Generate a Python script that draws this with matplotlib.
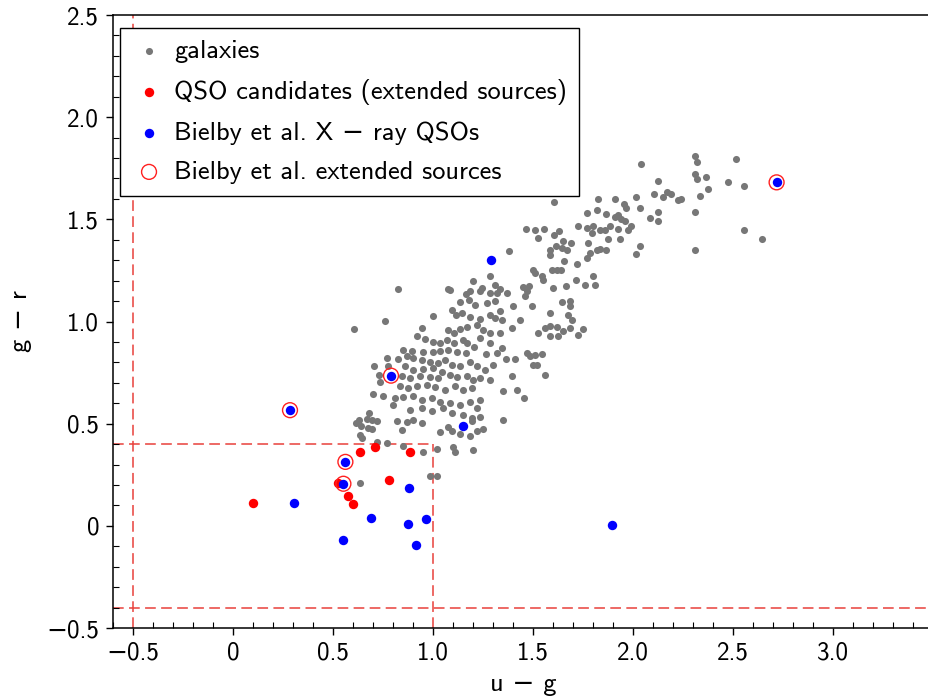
import matplotlib
matplotlib.use("Agg")
import matplotlib.pyplot as plt
from matplotlib.ticker import MultipleLocator, FuncFormatter

plt.rcParams['font.family'] = ['cmss10', 'DejaVu Sans']
plt.rcParams['axes.unicode_minus'] = True
plt.rcParams['mathtext.fontset'] = 'cm'

# ---- galaxies (u-g, g-r) ----
gal = [
    # blue edge of the cloud
    (0.707, 0.784), (0.732, 0.739), (0.735, 0.706), (0.702, 0.644), (0.680, 0.554),
    (0.628, 0.518), (0.615, 0.502), (0.668, 0.522), (0.693, 0.518), (0.722, 0.514),
    (0.640, 0.489), (0.677, 0.481), (0.693, 0.473), (0.635, 0.445), (0.647, 0.429),
    (0.718, 0.412), (0.823, 1.159), (0.607, 0.965), (1.077, 1.159), (1.202, 1.196),
    (0.635, 0.211),
    # lower part
    (0.818, 0.511), (0.868, 0.506), (0.902, 0.519), (0.943, 0.503), (0.843, 0.467),
    (1.035, 0.459), (1.077, 0.486), (1.093, 0.462), (1.135, 0.449), (1.185, 0.441),
    (1.218, 0.462), (1.252, 0.473), (1.193, 0.511), (0.768, 0.405), (0.852, 0.392),
    (0.952, 0.359), (1.022, 0.376), (1.102, 0.385), (1.110, 0.359), (1.202, 0.372),
    (0.985, 0.242), (1.022, 0.242),
    # dense core
    (1.085, 1.155), (1.165, 1.135), (1.185, 1.147), (1.235, 1.147), (1.285, 1.139),
    (1.135, 1.093), (1.182, 1.106), (1.210, 1.082), (1.268, 1.090), (1.310, 1.098),
    (1.002, 1.029), (1.093, 1.057), (1.115, 1.033), (1.143, 1.041), (0.758, 1.003),
    (0.943, 0.967), (1.185, 1.021), (1.235, 1.011), (1.285, 1.033), (1.310, 1.016),
    (1.077, 0.959), (1.105, 0.943), (1.135, 0.962), (1.172, 0.972), (1.218, 0.984),
    (1.252, 0.959), (1.285, 0.943), (1.235, 0.918), (0.918, 0.927), (0.960, 0.914),
    (1.002, 0.902), (1.035, 0.894), (1.068, 0.910), (1.105, 0.897), (1.148, 0.910),
    (1.172, 0.894), (1.285, 0.894), (1.205, 0.874), (1.265, 0.842), (1.322, 0.845),
    (0.848, 0.861), (0.893, 0.858), (0.952, 0.853), (0.998, 0.853), (1.035, 0.856),
    (1.077, 0.861), (1.122, 0.853), (1.165, 0.845), (0.768, 0.821), (0.827, 0.816),
    (0.868, 0.829), (0.902, 0.821), (0.943, 0.812), (0.985, 0.804), (1.027, 0.796),
    (1.060, 0.812), (1.093, 0.788), (1.135, 0.780), (1.185, 0.804), (1.218, 0.780),
    (1.260, 0.763), (1.302, 0.788), (0.860, 0.780), (0.902, 0.763), (0.952, 0.767),
    (1.002, 0.772), (1.043, 0.755), (0.777, 0.783), (0.843, 0.731), (0.885, 0.723),
    (0.935, 0.731), (0.985, 0.728), (1.027, 0.723), (1.085, 0.739), (1.118, 0.728),
    (1.168, 0.734), (1.202, 0.715), (1.235, 0.723), (1.285, 0.715), (0.835, 0.682),
    (0.877, 0.674), (0.918, 0.682), (0.968, 0.690), (1.010, 0.679), (1.060, 0.666),
    (1.110, 0.682), (1.152, 0.666), (1.193, 0.674), (0.752, 0.633), (0.810, 0.625),
    (0.852, 0.630), (0.902, 0.633), (0.943, 0.617), (0.993, 0.625), (1.035, 0.608),
    (1.085, 0.600), (1.135, 0.592), (1.185, 0.608), (1.235, 0.617), (1.218, 0.576),
    (0.802, 0.592), (0.885, 0.568), (0.943, 0.576), (0.993, 0.560), (1.052, 0.576),
    (1.093, 0.551), (1.152, 0.543), (1.193, 0.527), (1.235, 0.535),
    # middle of the sequence
    (1.605, 1.583), (1.768, 1.531), (1.818, 1.547), (1.727, 1.469), (1.768, 1.457),
    (1.802, 1.465), (1.793, 1.433), (1.465, 1.452), (1.510, 1.446), (1.555, 1.454),
    (1.605, 1.425), (1.632, 1.441), (1.527, 1.408), (1.652, 1.392), (1.688, 1.384),
    (1.585, 1.351), (1.615, 1.368), (1.643, 1.359), (1.672, 1.351), (1.777, 1.384),
    (1.818, 1.351), (1.785, 1.335), (1.768, 1.311), (1.382, 1.343), (1.585, 1.327),
    (1.655, 1.297), (1.718, 1.283), (1.502, 1.253), (1.510, 1.237), (1.543, 1.224),
    (1.552, 1.204), (1.593, 1.253), (1.618, 1.253), (1.638, 1.253), (1.798, 1.224),
    (1.715, 1.204), (1.760, 1.180), (1.810, 1.180), (1.285, 1.224), (1.243, 1.164),
    (1.310, 1.180), (1.335, 1.159), (1.368, 1.139), (1.322, 1.139), (1.452, 1.169),
    (1.468, 1.147), (1.482, 1.175), (1.460, 1.123), (1.598, 1.164), (1.665, 1.175),
    (1.402, 1.074), (1.493, 1.074), (1.643, 1.094), (1.685, 1.098), (1.685, 1.074),
    (1.335, 1.050), (1.343, 1.009), (1.585, 1.041), (1.677, 1.033), (1.693, 1.009),
    (1.435, 1.009), (1.393, 0.968), (1.335, 0.943), (1.527, 0.943), (1.560, 0.968),
    (1.585, 0.979), (1.618, 0.973), (1.652, 0.952), (1.685, 0.968), (1.727, 0.935),
    (1.752, 0.963), (1.585, 0.927), (1.627, 0.927),
    # lower right of the sequence
    (1.347, 0.870), (1.365, 0.816), (1.410, 0.816), (1.397, 0.735), (1.352, 0.658),
    (1.418, 0.663), (1.457, 0.625), (1.348, 0.519), (1.468, 0.845), (1.485, 0.829),
    (1.510, 0.837), (1.543, 0.841), (1.502, 0.785), (1.520, 0.785), (1.560, 0.740),
    # red end
    (1.827, 1.600), (2.310, 1.808), (2.318, 1.780), (2.513, 1.795), (2.040, 1.771),
    (2.127, 1.686), (2.310, 1.723), (2.318, 1.699), (2.363, 1.705), (2.473, 1.681),
    (2.555, 1.661), (2.377, 1.648), (2.335, 1.616), (2.107, 1.624), (2.148, 1.609),
    (2.168, 1.634), (2.190, 1.624), (2.227, 1.596), (2.238, 1.601), (1.910, 1.601),
    (2.015, 1.609), (2.035, 1.555), (1.957, 1.577), (1.965, 1.555), (2.127, 1.537),
    (2.085, 1.505), (2.127, 1.493), (2.310, 1.537), (1.865, 1.526), (1.910, 1.511),
    (1.927, 1.520), (1.940, 1.503), (1.960, 1.490), (1.977, 1.449), (1.988, 1.466),
    (1.835, 1.449), (1.860, 1.449), (1.885, 1.466), (1.927, 1.454), (2.555, 1.449),
    (2.647, 1.404), (1.877, 1.404), (1.935, 1.404), (2.310, 1.352), (2.035, 1.371),
    (2.015, 1.332), (1.835, 1.355), (1.865, 1.352),
]
gal_ug = [p[0] for p in gal]
gal_gr = [p[1] for p in gal]

# ---- QSO candidates (extended sources) ----
cand_ug = [0.102, 0.635, 0.712, 0.885, 0.778, 0.525, 0.573, 0.602]
cand_gr = [0.114, 0.359, 0.384, 0.361, 0.224, 0.211, 0.147, 0.108]

# ---- Bielby et al. X-ray QSOs ----
xray_ug = [0.562, 0.552, 0.307, 0.878, 0.688, 0.877, 0.963, 0.550, 0.917,
           1.895, 1.290, 1.152, 0.790, 0.285, 2.718]
xray_gr = [0.313, 0.206, 0.114, 0.185, 0.038, 0.010, 0.031, -0.067, -0.093,
           0.005, 1.299, 0.487, 0.735, 0.566, 1.681]

# ---- Bielby et al. extended sources ----
ext_ug = [0.562, 0.552, 0.790, 0.285, 2.718]
ext_gr = [0.313, 0.206, 0.735, 0.566, 1.681]

# selection cuts
cut_ug_min, cut_ug_max = -0.5, 1.0
cut_gr_min, cut_gr_max = -0.4, 0.4

xticks = [-0.5, 0, 0.5, 1.0, 1.5, 2.0, 2.5, 3.0]
yticks = [-0.5, 0, 0.5, 1.0, 1.5, 2.0, 2.5]

fig = plt.figure(figsize=(9.29, 7.0), dpi=100)
ax = fig.add_axes([113 / 929, 72 / 700, 820 / 929, 613 / 700])

cut_kw = dict(color='#e8403a', lw=1.1, ls=(0, (7, 3.5)), zorder=1)
ax.axvline(cut_ug_min, **cut_kw)
ax.axhline(cut_gr_min, **cut_kw)
ax.plot([-0.6, cut_ug_max], [cut_gr_max, cut_gr_max], **cut_kw)
ax.plot([cut_ug_max, cut_ug_max], [-0.5, cut_gr_max], **cut_kw)

ax.scatter(gal_ug, gal_gr, s=26, color='#777777', lw=0, zorder=2, label='galaxies')
ax.scatter(cand_ug, cand_gr, s=46, color='#ff0000', lw=0, zorder=3,
           label='QSO candidates (extended sources)')
ax.scatter(xray_ug, xray_gr, s=46, color='#0000ff', lw=0, zorder=4,
           label='Bielby et al. X \u2212 ray QSOs')
ax.scatter(ext_ug, ext_gr, s=115, facecolor='none', edgecolor='#ff2020', lw=1.0,
           zorder=5, label='Bielby et al. extended sources')

ax.set_xlim(-0.6, 3.5)
ax.set_ylim(-0.5, 2.5)
ax.set_xticks(xticks)
ax.set_yticks(yticks)
ax.xaxis.set_minor_locator(MultipleLocator(0.1))
ax.yaxis.set_minor_locator(MultipleLocator(0.1))


def fmt(v, pos):
    if abs(v) < 1e-9:
        return '0'
    return ('%.1f' % v).replace('-', '\u2212')


ax.xaxis.set_major_formatter(FuncFormatter(fmt))
ax.yaxis.set_major_formatter(FuncFormatter(fmt))
ax.tick_params(which='major', direction='out', length=5, width=1, labelsize=18, pad=5)
ax.tick_params(which='minor', direction='in', length=4, width=0.8)
for s in ax.spines.values():
    s.set_linewidth(1.1)

ax.set_xlabel('u \u2212 g', fontsize=19, labelpad=6)
ax.set_ylabel('g \u2212 r', fontsize=19, labelpad=10)

leg = ax.legend(loc='upper left', bbox_to_anchor=(120 / 929, 1 - 28 / 700),
                bbox_transform=fig.transFigure, borderaxespad=0,
                fontsize=19, frameon=True, fancybox=False,
                edgecolor='black', framealpha=1, borderpad=0.45, labelspacing=0.6,
                handletextpad=0.3, handlelength=1.3, scatterpoints=1)
leg.get_frame().set_linewidth(1.0)

fig.savefig('out.png', dpi=100)
